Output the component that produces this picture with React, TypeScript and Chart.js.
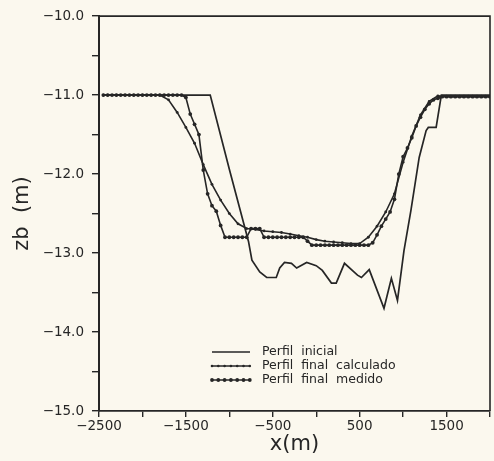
import React, { useEffect, useRef } from "react";
import { Chart, registerables } from "chart.js";

Chart.register(...registerables);

// ---- data ----
const inicialX = [-2450, -1220, -1000, -780, -740, -650, -570, -460, -420, -365, -285, -225, -110, 0, 70, 175, 230, 325, 475, 520, 610, 780, 865, 935, 1010, 1090, 1185, 1265, 1290, 1380, 1440, 2000];
const inicialY = [-11.0, -11.0, -11.94, -12.85, -13.09, -13.24, -13.31, -13.31, -13.19, -13.12, -13.13, -13.19, -13.12, -13.16, -13.22, -13.38, -13.38, -13.13, -13.28, -13.31, -13.21, -13.70, -13.32, -13.60, -12.97, -12.46, -11.79, -11.45, -11.41, -11.41, -11.0, -11.0];

const calcX = [-2450, -2400, -2300, -2200, -2100, -2000, -1900, -1800, -1700, -1600, -1500, -1400, -1300, -1200, -1100, -1000, -900, -800, -700, -600, -500, -400, -300, -200, -100, 0, 100, 200, 300, 400, 500, 600, 700, 800, 900, 1000, 1100, 1200, 1300, 1400, 1500, 1600, 1700, 1800, 1900, 2000];
const calcY = [-11.0, -11.0, -11.0, -11.0, -11.0, -11.0, -11.0, -11.0, -11.06, -11.22, -11.41, -11.61, -11.88, -12.13, -12.33, -12.5, -12.63, -12.69, -12.7, -12.72, -12.73, -12.74, -12.76, -12.78, -12.8, -12.83, -12.85, -12.86, -12.87, -12.88, -12.88, -12.8, -12.66, -12.48, -12.25, -11.85, -11.52, -11.25, -11.08, -11.01, -11.02, -11.02, -11.02, -11.02, -11.02, -11.02];

const medX = [-2450, -2400, -2350, -2300, -2250, -2200, -2150, -2100, -2050, -2000, -1950, -1900, -1850, -1800, -1750, -1700, -1650, -1600, -1550, -1500, -1450, -1400, -1350, -1300, -1250, -1200, -1150, -1100, -1050, -1000, -950, -900, -850, -800, -750, -700, -650, -600, -550, -500, -450, -400, -350, -300, -250, -200, -150, -100, -50, 0, 50, 100, 150, 200, 250, 300, 350, 400, 450, 500, 550, 600, 650, 700, 750, 800, 850, 900, 950, 1000, 1050, 1100, 1150, 1200, 1250, 1300, 1350, 1400, 1450, 1500, 1550, 1600, 1650, 1700, 1750, 1800, 1850, 1900, 1950, 2000];
const medY = [-11.0, -11.0, -11.0, -11.0, -11.0, -11.0, -11.0, -11.0, -11.0, -11.0, -11.0, -11.0, -11.0, -11.0, -11.0, -11.0, -11.0, -11.0, -11.0, -11.03, -11.24, -11.37, -11.5, -11.95, -12.25, -12.4, -12.47, -12.65, -12.8, -12.8, -12.8, -12.8, -12.8, -12.8, -12.69, -12.69, -12.69, -12.8, -12.8, -12.8, -12.8, -12.8, -12.8, -12.8, -12.8, -12.8, -12.8, -12.85, -12.9, -12.9, -12.9, -12.9, -12.9, -12.9, -12.9, -12.9, -12.9, -12.9, -12.9, -12.9, -12.9, -12.9, -12.87, -12.77, -12.66, -12.57, -12.48, -12.32, -12.0, -11.78, -11.67, -11.54, -11.39, -11.28, -11.18, -11.11, -11.06, -11.04, -11.02, -11.02, -11.02, -11.02, -11.02, -11.02, -11.02, -11.02, -11.02, -11.02, -11.02, -11.02];

const xLabelValues = [-2500, -1500, -500, 500, 1500];
const yLabelValues = [-10, -11, -12, -13, -14, -15];
const seriesNames = ["Perfil  inicial", "Perfil  final  calculado", "Perfil  final  medido"];

const BG = "#fbf8ee";
const INK = "#262626";
const FONT = "'DejaVu Sans', sans-serif";

const fmtMinus = (s: string) => s.replace("-", "\u2212");

const toPoints = (xs: number[], ys: number[]) => xs.map((x, i) => ({ x, y: ys[i] }));

const framePlugin = {
  id: "frame",
  afterDraw(chart: any) {
    const { ctx, chartArea } = chart;
    ctx.save();
    ctx.strokeStyle = INK;
    ctx.lineWidth = 1.6;
    ctx.beginPath();
    ctx.moveTo(chartArea.left, chartArea.top);
    ctx.lineTo(chartArea.right, chartArea.top);
    ctx.lineTo(chartArea.right, chartArea.bottom);
    ctx.stroke();

    // legend
    const lx0 = 212, lx1 = 250, tx = 262;
    const rows = [352, 366, 380];
    ctx.font = `12.5px ${FONT}`;
    ctx.fillStyle = INK;
    ctx.textBaseline = "middle";
    rows.forEach((ry, i) => {
      ctx.lineWidth = 1.5;
      ctx.beginPath();
      ctx.moveTo(lx0, ry);
      ctx.lineTo(lx1, ry);
      ctx.stroke();
      if (i > 0) {
        const r = i === 1 ? 1.3 : 1.9;
        for (let x = lx0; x <= lx1 + 0.1; x += 6.3) {
          ctx.beginPath();
          ctx.arc(x, ry, r, 0, Math.PI * 2);
          ctx.fill();
        }
      }
      ctx.fillText(seriesNames[i], tx, ry);
    });
    ctx.restore();
  },
};

export default function App() {
  const ref = useRef<HTMLCanvasElement | null>(null);

  useEffect(() => {
    if (!ref.current) return;
    const chart = new Chart(ref.current, {
      type: "line",
      data: {
        datasets: [
          {
            label: seriesNames[0],
            data: toPoints(inicialX, inicialY),
            borderColor: INK,
            borderWidth: 1.7,
            pointRadius: 0,
            tension: 0,
          },
          {
            label: seriesNames[1],
            data: toPoints(calcX, calcY),
            borderColor: INK,
            backgroundColor: INK,
            borderWidth: 1.6,
            pointRadius: 1.4,
            pointBorderWidth: 0,
            tension: 0,
          },
          {
            label: seriesNames[2],
            data: toPoints(medX, medY),
            borderColor: INK,
            backgroundColor: INK,
            borderWidth: 1.6,
            pointRadius: 1.9,
            pointBorderWidth: 0,
            tension: 0,
          },
        ],
      },
      options: {
        responsive: false,
        animation: false,
        layout: { padding: { left: 0, top: 15, right: 3, bottom: 0 } },
        plugins: { legend: { display: false }, tooltip: { enabled: false } },
        scales: {
          x: {
            type: "linear",
            min: -2500,
            max: 2000,
            afterFit: (s: any) => {
              s.height = 50;
            },
            ticks: {
              stepSize: 500,
              autoSkip: false,
              maxRotation: 0,
              padding: 1,
              color: INK,
              font: { family: FONT, size: 13.5 },
              callback: (v: any) => (xLabelValues.includes(Number(v)) ? fmtMinus(String(v)) : ""),
            },
            grid: { drawOnChartArea: false, tickLength: 6, color: INK, lineWidth: 1.4 },
            border: { color: INK, width: 1.8 },
            title: {
              display: true,
              text: "x(m)",
              color: INK,
              font: { family: FONT, size: 21 },
              padding: { top: 0, bottom: 4 },
            },
          },
          y: {
            type: "linear",
            min: -15,
            max: -10,
            afterFit: (s: any) => {
              s.width = 99;
            },
            ticks: {
              stepSize: 0.5,
              autoSkip: false,
              padding: 8,
              color: INK,
              font: { family: FONT, size: 13.5 },
              callback: (v: any) => (yLabelValues.includes(Number(v)) ? fmtMinus(Number(v).toFixed(1)) : ""),
            },
            grid: { drawOnChartArea: false, tickLength: 7, color: INK, lineWidth: 1.4 },
            border: { color: INK, width: 2 },
            title: {
              display: true,
              text: "zb  (m)",
              color: INK,
              font: { family: FONT, size: 21 },
              padding: { top: 10, bottom: 0 },
            },
          },
        },
      },
      plugins: [framePlugin],
    });
    return () => chart.destroy();
  }, []);

  return (
    <div style={{ position: "fixed", left: 0, top: 0, width: 494, height: 461, background: BG }}>
      <canvas ref={ref} width={494} height={461} style={{ display: "block" }} />
    </div>
  );
}
